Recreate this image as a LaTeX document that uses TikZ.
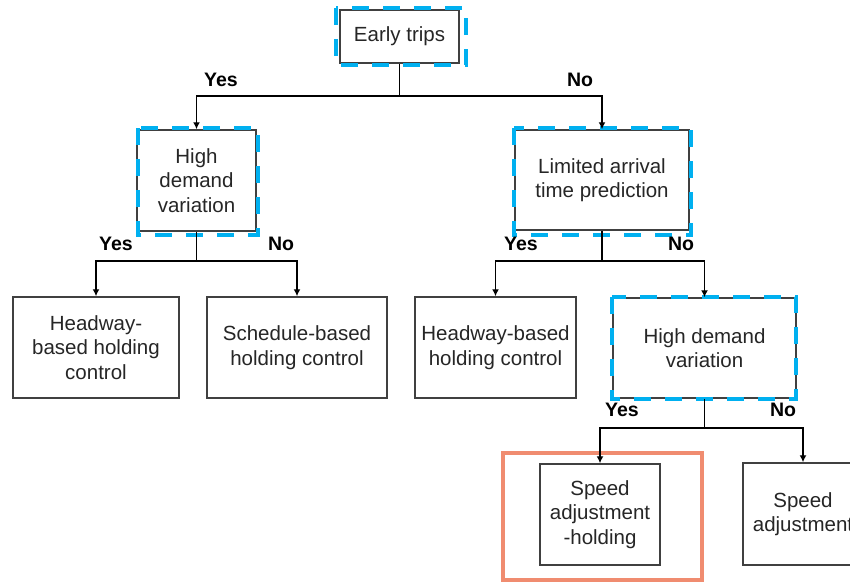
\documentclass[tikz,border=0pt]{standalone}
\usepackage{fontspec}
\setmainfont{Liberation Sans}
\usetikzlibrary{arrows.meta}
\definecolor{hlblue}{RGB}{0,176,240}
\definecolor{hlred}{RGB}{240,140,112}
\definecolor{boxgray}{RGB}{64,64,64}
\tikzset{
  box/.style={draw=boxgray, line width=1.5pt, fill=white, align=center, inner sep=2pt,
    font=\fontsize{20.5}{24.5}\selectfont, text=black!85},
  hl/.style={draw=hlblue, line width=4pt, dash pattern=on 17pt off 14pt},
  hlsel/.style={draw=hlred, line width=4pt},
  lbl/.style={font=\bfseries\fontsize{19.5}{22}\selectfont},
  arr/.style={-{Latex[length=7pt,width=7pt]}}
}
\begin{document}
\begin{tikzpicture}[x=1pt,y=-1pt,line width=1.6pt]
\useasboundingbox (0,0) rectangle (850,583);
\clip (0,0) rectangle (850,583);
% top level
\node[box, minimum width=119pt, minimum height=53pt] (early) at (399.5,36.5){Early trips};
\draw[hl] (336,8) rectangle (466,65);
\coordinate (j0) at (399.5,96);
\node[box, minimum width=119pt, minimum height=101pt] (hdv1) at (196.5,180.5){High\\demand\\variation};
\node[box, minimum width=174pt, minimum height=100pt] (latp) at (602,180){Limited arrival\\time prediction};
\draw[hl] (138,128) rectangle (258,235);
\draw[hl] (514,128) rectangle (691,235);
\draw[](early) -- (j0);
\draw[arr](j0) -| (hdv1);
\draw[arr](j0) -| (latp);
\node[lbl] (yes0) at (221,80){Yes};
\node[lbl] (no0) at (580,80){No};
% left branch
\node[box, minimum width=166pt, minimum height=101pt] (hbh1) at (96,347.5){Headway-\\based holding\\control};
\node[box, minimum width=180pt, minimum height=101pt] (sbh) at (297,347.5){Schedule-based\\holding control};
\coordinate (j1) at (196.5,261);
\draw[](hdv1) -- (j1);
\draw[arr](j1) -| (hbh1);
\draw[arr](j1) -| (sbh);
\node[lbl] (yes1) at (116,244){Yes};
\node[lbl] (no1) at (281,244){No};
% right branch
\node[box, minimum width=161pt, minimum height=101pt] (hbh2) at (495.5,347.5){Headway-based\\holding control};
\node[box, minimum width=183pt, minimum height=100pt] (hdv2) at (704.5,348){High demand\\variation};
\draw[hl] (612,297) rectangle (796,399);
\coordinate (j2) at (602,261);
\draw[](latp) -- (j2);
\draw[arr](j2) -| (hbh2);
\draw[arr](j2) -| (hdv2);
\node[lbl] (yes2) at (521,244){Yes};
\node[lbl] (no2) at (681,244){No};
% bottom level
\node[box, minimum width=120pt, minimum height=101pt] (sah) at (600,514.5){Speed\\adjustment\\-holding};
\node[box, minimum width=120pt, minimum height=102pt] (sa) at (803,514){Speed\\adjustment};
\draw[hlsel] (503,453) rectangle (702,580);
\coordinate (j3) at (704.5,428);
\draw[](hdv2) -- (j3);
\draw[arr](j3) -| (sah);
\draw[arr](j3) -| (sa);
\node[lbl] (yes3) at (622,410){Yes};
\node[lbl] (no3) at (783,410){No};
\end{tikzpicture}
\end{document}
